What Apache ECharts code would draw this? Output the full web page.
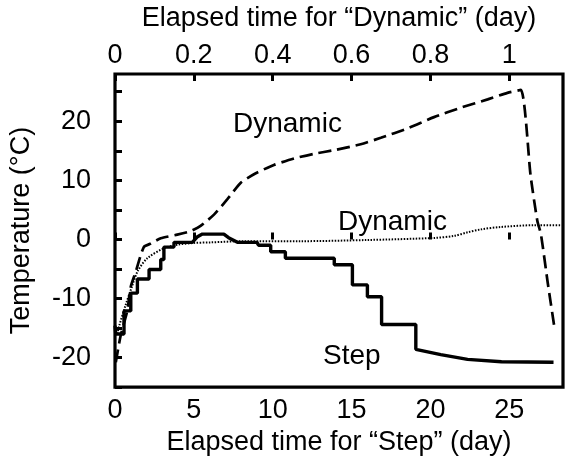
<!DOCTYPE html>
<html><head><meta charset="utf-8">
<script src="https://cdn.jsdelivr.net/npm/echarts@6/dist/echarts.min.js"></script>
<style>html,body{margin:0;padding:0;background:#fff}#c{width:567px;height:461px}</style>
</head><body><div id="c"></div>
<script>
// "Step" experiment: elapsed time in days (bottom axis)
const stepDays = [0, 0.05, 0.57, 0.57, 1.0, 1.0, 1.42, 1.42, 2.16, 2.16, 2.9, 2.9, 3.1, 3.1, 3.74, 3.74, 4.9, 5.2, 5.54, 6.9, 7.2, 7.76, 9.0, 9.1, 9.87, 9.87, 10.8, 10.8, 13.9, 13.9, 15.05, 15.05, 16.0, 16.0, 16.9, 16.9, 19.07, 19.07, 20.65, 22.35, 24.5, 27.8];
const stepTemp = [-14.6, -16.0, -16.0, -12.1, -12.1, -9.1, -9.1, -6.7, -6.7, -5.1, -5.1, -3.4, -3.4, -1.3, -1.3, -0.5, -0.5, 0.4, 0.9, 0.9, 0.3, -0.5, -0.5, -1.0, -1.0, -2.1, -2.1, -3.2, -3.2, -4.3, -4.3, -7.7, -7.7, -9.7, -9.7, -14.4, -14.4, -18.6, -19.5, -20.3, -20.7, -20.8];
// "Dynamic" (dashed): elapsed time in days (top axis)
const dashDays = [0.002, 0.014, 0.031, 0.040, 0.052, 0.073, 0.091, 0.116, 0.158, 0.192, 0.217, 0.251, 0.285, 0.319, 0.357, 0.403, 0.454, 0.505, 0.555, 0.623, 0.674, 0.742, 0.809, 0.877, 0.945, 0.995, 1.029, 1.054, 1.071, 1.080, 1.097, 1.114];
const dashTemp = [-20.8, -16.4, -12.1, -8.0, -5.6, -1.3, -0.7, 0.2, 0.8, 1.4, 2.3, 4.2, 6.8, 9.6, 11.2, 12.6, 13.7, 14.5, 15.1, 16.1, 17.2, 18.8, 20.7, 22.3, 23.7, 24.8, 25.3, 10.7, 3.1, 0.9, -7.2, -14.8];
// "Dynamic" (dotted): elapsed time in days (top axis)
const dotDays = [0.006, 0.010, 0.027, 0.044, 0.058, 0.082, 0.124, 0.158, 0.200, 0.243, 0.327, 0.471, 0.640, 0.809, 0.860, 0.894, 0.928, 0.978, 1.063, 1.131];
const dotTemp = [-16.0, -14.8, -11.1, -7.8, -5.3, -3.2, -1.5, -0.9, -0.6, -0.5, -0.3, -0.3, -0.1, 0.25, 0.6, 1.2, 1.7, 2.1, 2.4, 2.4];

const bottomTicks = [0, 5, 10, 15, 20, 25];
const topTicks = [0, 0.2, 0.4, 0.6, 0.8, 1];
const yTicks = [-20, -10, 0, 10, 20];

const FONT = 'Liberation Sans, Arial, Helvetica, sans-serif';
const FS = 27;

function pairs(xs, ys) { return xs.map((x, i) => [x, ys[i]]); }
function fmt(list) {
  return function (v) {
    for (const t of list) if (Math.abs(v - t) < 1e-6) return String(t);
    return '';
  };
}

const chart = echarts.init(document.getElementById('c'), null, { renderer: 'canvas' });
chart.setOption({
  animation: false,
  backgroundColor: '#fff',
  grid: { left: 114, right: 4, top: 67, bottom: 68, show: true, borderColor: '#000', borderWidth: 3.2, backgroundColor: 'transparent' },
  xAxis: [
    {
      type: 'value', position: 'bottom', min: 0, max: 28.4, interval: 5,
      name: 'Elapsed time for \u201cStep\u201d (day)', nameLocation: 'middle', nameGap: 40,
      nameTextStyle: { fontFamily: FONT, fontSize: FS, color: '#000' },
      axisLine: { show: false },
      axisTick: { show: true, inside: true, length: 7, lineStyle: { color: '#000', width: 3 } },
      axisLabel: { show: true, margin: 10, fontFamily: FONT, fontSize: FS, color: '#000', formatter: fmt(bottomTicks), showMaxLabel: false },
      splitLine: { show: false }
    },
    {
      type: 'value', position: 'top', min: 0, max: 28.4 / 25, interval: 0.2,
      name: 'Elapsed time for \u201cDynamic\u201d (day)', nameLocation: 'middle', nameGap: 42,
      nameTextStyle: { fontFamily: FONT, fontSize: FS, color: '#000' },
      axisLine: { show: false },
      axisTick: { show: true, inside: true, length: 7, lineStyle: { color: '#000', width: 3 } },
      axisLabel: { show: true, margin: 5, fontFamily: FONT, fontSize: FS, color: '#000', formatter: fmt(topTicks), showMaxLabel: false },
      splitLine: { show: false }
    }
  ],
  yAxis: [{
    type: 'value', min: -25, max: 28, interval: 5,
    name: 'Temperature (\u00b0C)', nameLocation: 'middle', nameGap: 80, nameRotate: 90,
    nameTextStyle: { fontFamily: FONT, fontSize: FS, color: '#000' },
    axisLine: { show: false },
    axisTick: { show: true, inside: true, length: 7, lineStyle: { color: '#000', width: 3 } },
    axisLabel: { show: true, margin: 24, fontFamily: FONT, fontSize: FS, color: '#000', formatter: fmt(yTicks), showMaxLabel: false },
    splitLine: { show: false }
  }],
  series: [
    {
      type: 'line', name: 'Dynamic dotted', xAxisIndex: 1, yAxisIndex: 0, data: pairs(dotDays, dotTemp),
      showSymbol: false, smooth: 0.3, lineStyle: { color: '#000', width: 2, type: [1.5, 1.5] }, z: 2
    },
    {
      type: 'line', name: 'Dynamic dashed', xAxisIndex: 1, yAxisIndex: 0, data: pairs(dashDays, dashTemp),
      showSymbol: false, smooth: 0.2, lineStyle: { color: '#000', width: 2.7, type: [13, 6] }, z: 3
    },
    {
      type: 'line', name: 'Step', xAxisIndex: 0, yAxisIndex: 0, data: pairs(stepDays, stepTemp),
      showSymbol: false, lineStyle: { color: '#000', width: 3.4 }, z: 4
    }
  ],
  graphic: [
    { type: 'text', left: 233, top: 110, style: { text: 'Dynamic', font: '28px ' + FONT, fill: '#000' } },
    { type: 'text', left: 338, top: 208, style: { text: 'Dynamic', font: '28px ' + FONT, fill: '#000' } },
    { type: 'text', left: 323, top: 342, style: { text: 'Step', font: '28px ' + FONT, fill: '#000' } }
  ]
});
</script>
</body></html>
